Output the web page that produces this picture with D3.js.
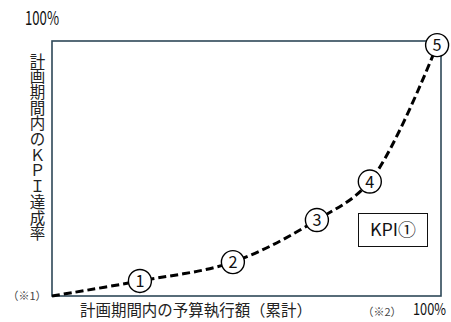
<!DOCTYPE html>
<html>
<head>
<meta charset="utf-8">
<script src="https://cdn.jsdelivr.net/npm/d3@7"></script>
<style>
  html, body { margin: 0; padding: 0; background: #fff; }
  svg { display: block; }
</style>
</head>
<body>
<svg id="chart" width="451" height="322"></svg>
<script>
// Cumulative budget execution (%) vs. KPI achievement (%) over the plan period
const budgetPct = [0, 22.6, 46.5, 68.1, 81.7, 99.0];
const kpiPct    = [0, 5.9, 13.3, 29.8, 44.9, 98.4];
const stepLabels = ["", "1", "2", "3", "4", "5"];
const yTickLabels = ["100%"];
const xTickLabels = ["100%"];
const yTitleChars = Array.from("計画期間内のＫＰＩ達成率");
const xTitle = "計画期間内の予算執行額（累計）";
const noteY = "（※1）";
const noteX = "（※2）";
const badge = "KPI①";

const jpFont = "'Noto Sans CJK JP', 'Noto Sans', sans-serif";
const svg = d3.select("#chart");

const x = d3.scaleLinear().domain([0, 100]).range([52, 441]);
const y = d3.scaleLinear().domain([0, 100]).range([296, 41]);

// plot frame
svg.append("rect")
  .attr("x", x(0)).attr("y", y(100))
  .attr("width", x(100) - x(0)).attr("height", y(0) - y(100))
  .attr("fill", "none")
  .attr("stroke", "#2d4858")
  .attr("stroke-width", 1.6);

// 100% labels at the ends of both axes
svg.selectAll("text.ytick").data(yTickLabels).join("text")
  .attr("class", "ytick")
  .attr("x", x(0) - 10).attr("y", y(100) - 16)
  .attr("text-anchor", "middle")
  .attr("font-family", jpFont).attr("font-size", 19)
  .attr("textLength", 34).attr("lengthAdjust", "spacingAndGlyphs")
  .attr("fill", "#111")
  .text(d => d);

svg.selectAll("text.xtick").data(xTickLabels).join("text")
  .attr("class", "xtick")
  .attr("x", x(100) + 5).attr("y", 315)
  .attr("text-anchor", "end")
  .attr("font-family", jpFont).attr("font-size", 16.5)
  .attr("textLength", 33).attr("lengthAdjust", "spacingAndGlyphs")
  .attr("fill", "#111")
  .text(d => d);

// vertical y-axis title, one upright glyph per row
const charStep = 15.7;
svg.selectAll("text.ytitle").data(yTitleChars).join("text")
  .attr("class", "ytitle")
  .attr("x", 37.5)
  .attr("y", (d, i) => 61 + i * charStep)
  .attr("dy", "0.36em")
  .attr("text-anchor", "middle")
  .attr("font-family", jpFont).attr("font-size", 15.5)
  .attr("fill", "#222")
  .text(d => d);

// x-axis title
svg.append("text")
  .attr("x", 196).attr("y", 316)
  .attr("text-anchor", "middle")
  .attr("font-family", jpFont).attr("font-size", 15.5)
  .attr("textLength", 232).attr("lengthAdjust", "spacingAndGlyphs")
  .attr("fill", "#222")
  .text(xTitle);

// footnote markers
svg.append("text")
  .attr("x", 27).attr("y", y(0) + 3.5)
  .attr("text-anchor", "middle")
  .attr("font-family", jpFont).attr("font-size", 11)
  .attr("fill", "#444")
  .text(noteY);
svg.append("text")
  .attr("x", 382).attr("y", 316)
  .attr("text-anchor", "middle")
  .attr("font-family", jpFont).attr("font-size", 11)
  .attr("fill", "#444")
  .text(noteX);

// dashed achievement curve
const pts = budgetPct.map((b, i) => ({ b, k: kpiPct[i], label: stepLabels[i] }));
const line = d3.line()
  .x(d => x(d.b)).y(d => y(d.k))
  .curve(d3.curveCatmullRom.alpha(0.5));
svg.append("path")
  .datum(pts)
  .attr("d", line)
  .attr("fill", "none")
  .attr("stroke", "#000")
  .attr("stroke-width", 3)
  .attr("stroke-dasharray", "8,4");

// numbered step markers
const steps = svg.selectAll("g.step").data(pts.filter(d => d.label)).join("g")
  .attr("class", "step")
  .attr("transform", d => `translate(${x(d.b)},${y(d.k)})`);
steps.append("circle")
  .attr("r", 11.5)
  .attr("fill", "#fff")
  .attr("stroke", "#000")
  .attr("stroke-width", 1.4);
steps.append("text")
  .attr("text-anchor", "middle")
  .attr("dy", "0.36em")
  .attr("font-family", jpFont).attr("font-size", 17)
  .attr("textLength", 9).attr("lengthAdjust", "spacingAndGlyphs")
  .attr("fill", "#111")
  .text(d => d.label);

// KPI badge
svg.append("rect")
  .attr("x", 358.5).attr("y", 213.5)
  .attr("width", 69).attr("height", 33)
  .attr("fill", "#fff")
  .attr("stroke", "#111")
  .attr("stroke-width", 1);
svg.append("text")
  .attr("x", 393).attr("y", 230)
  .attr("dy", "0.36em")
  .attr("text-anchor", "middle")
  .attr("font-family", jpFont).attr("font-size", 17)
  .attr("textLength", 46).attr("lengthAdjust", "spacingAndGlyphs")
  .attr("fill", "#111")
  .text(badge);
</script>
</body>
</html>
